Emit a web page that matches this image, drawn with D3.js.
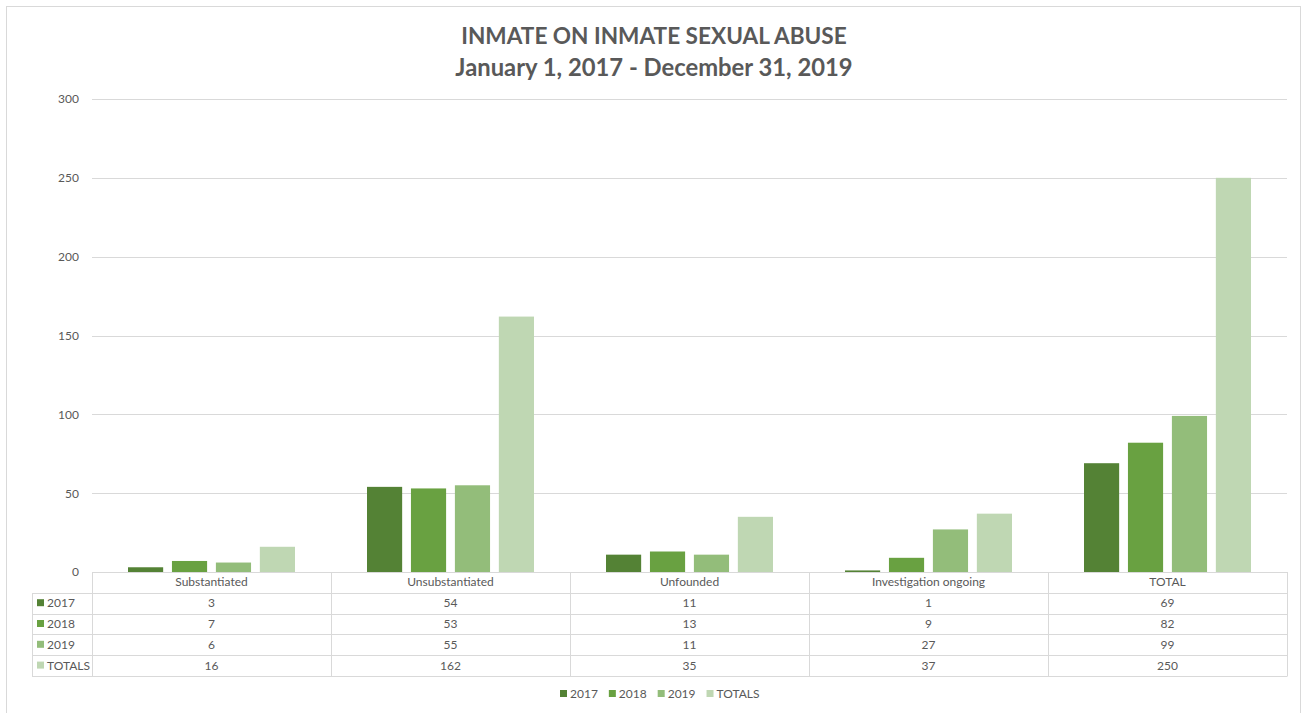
<!DOCTYPE html>
<html>
<head>
<meta charset="utf-8">
<script src="https://cdn.jsdelivr.net/npm/d3@7"></script>
<style>
  html, body { margin: 0; padding: 0; background: #fff; }
  svg { display: block; font-family: Lato, "Open Sans", sans-serif; }
</style>
</head>
<body>
<svg id="chart" width="1304" height="713"></svg>
<script>
// Outcome categories and yearly counts
const categories = ["Substantiated", "Unsubstantiated", "Unfounded", "Investigation ongoing", "TOTAL"];
const seriesNames = ["2017", "2018", "2019", "TOTALS"];
const values2017 = [3, 54, 11, 1, 69];
const values2018 = [7, 53, 13, 9, 82];
const values2019 = [6, 55, 11, 27, 99];
const valuesTotals = [16, 162, 35, 37, 250];
const yTicks = [0, 50, 100, 150, 200, 250, 300];
const colors = ["#548235", "#69a141", "#93bd7a", "#bfd7b3"];

const seriesValues = [values2017, values2018, values2019, valuesTotals];
const series = seriesNames.map((name, i) => ({ name, color: colors[i], values: seriesValues[i] }));

const svg = d3.select("#chart");
const W = 1304, H = 713;
const textColor = "#595959";
const lineColor = "#d9d9d9";

// chart frame
svg.append("rect")
  .attr("x", 6.5).attr("y", 6.5).attr("width", W - 10).attr("height", H - 5)
  .attr("fill", "#fff").attr("stroke", "#d9d9d9").attr("stroke-width", 1);

// title
const title = svg.append("text")
  .attr("text-anchor", "middle")
  .attr("fill", textColor)
  .attr("font-weight", "bold");
title.append("tspan").attr("x", 654).attr("y", 44).attr("font-size", 22.6).text("INMATE ON INMATE SEXUAL ABUSE");
title.append("tspan").attr("x", 654).attr("y", 76).attr("font-size", 23.8).text("January 1, 2017 - December 31, 2019");

const plot = { left: 92, right: 1287, top: 99, bottom: 572 };

const x0 = d3.scaleBand().domain(categories).range([plot.left, plot.right]).padding(0);
const groupPad = 36;
const x1 = d3.scaleBand().domain(seriesNames)
  .range([groupPad, x0.bandwidth() - groupPad])
  .paddingInner(0.2);
const y = d3.scaleLinear().domain([0, 300]).range([plot.bottom, plot.top]);

// gridlines
svg.append("g")
  .selectAll("line")
  .data(yTicks)
  .join("line")
  .attr("x1", plot.left).attr("x2", plot.right)
  .attr("y1", d => Math.round(y(d)) + 0.5).attr("y2", d => Math.round(y(d)) + 0.5)
  .attr("stroke", lineColor).attr("stroke-width", 1);

// y axis labels
const yAxis = d3.axisLeft(y).tickValues(yTicks).tickSize(0).tickPadding(13);
const yg = svg.append("g").attr("transform", `translate(${plot.left},0)`).call(yAxis);
yg.select(".domain").remove();
yg.selectAll("text").attr("fill", textColor).attr("font-size", 12)
  .attr("font-family", "Lato, 'Open Sans', sans-serif");

// bars
const groups = svg.append("g")
  .selectAll("g")
  .data(categories)
  .join("g")
  .attr("transform", d => `translate(${x0(d)},0)`);

groups.selectAll("rect")
  .data((c, ci) => series.map(s => ({ name: s.name, color: s.color, value: s.values[ci] })))
  .join("rect")
  .attr("x", d => x1(d.name))
  .attr("width", x1.bandwidth())
  .attr("y", d => y(d.value))
  .attr("height", d => y(0) - y(d.value))
  .attr("fill", d => d.color);

// data table below the axis
const rowH = 20.8;
const tableTop = plot.bottom;
const legendColX = 32;
const tableG = svg.append("g");

// header row
tableG.append("line")
  .attr("x1", plot.left).attr("x2", plot.right)
  .attr("y1", tableTop + 0.5).attr("y2", tableTop + 0.5)
  .attr("stroke", lineColor);
// horizontal row lines
for (let r = 1; r <= series.length + 1; r++) {
  const yy = Math.round(tableTop + r * rowH) + 0.5;
  tableG.append("line")
    .attr("x1", legendColX).attr("x2", plot.right)
    .attr("y1", yy).attr("y2", yy)
    .attr("stroke", lineColor);
}
// vertical lines
const tableBottom = Math.round(tableTop + (series.length + 1) * rowH) + 0.5;
const vxs = categories.map(c => x0(c)).concat([plot.right]);
vxs.forEach(vx => {
  tableG.append("line")
    .attr("x1", Math.round(vx) + 0.5).attr("x2", Math.round(vx) + 0.5)
    .attr("y1", tableTop).attr("y2", tableBottom)
    .attr("stroke", lineColor);
});
tableG.append("line")
  .attr("x1", legendColX + 0.5).attr("x2", legendColX + 0.5)
  .attr("y1", Math.round(tableTop + rowH)).attr("y2", tableBottom)
  .attr("stroke", lineColor);

// category headers
tableG.selectAll("text.cat")
  .data(categories)
  .join("text")
  .attr("class", "cat")
  .attr("x", d => x0(d) + x0.bandwidth() / 2)
  .attr("y", tableTop + rowH / 2 + 4)
  .attr("text-anchor", "middle")
  .attr("fill", textColor).attr("font-size", 12)
  .text(d => d);

// series rows
series.forEach((s, si) => {
  const rowY = tableTop + (si + 1) * rowH;
  tableG.append("rect")
    .attr("x", 37).attr("y", rowY + rowH / 2 - 4)
    .attr("width", 7).attr("height", 7)
    .attr("fill", s.color);
  tableG.append("text")
    .attr("x", 47).attr("y", rowY + rowH / 2 + 4)
    .attr("fill", textColor).attr("font-size", 12)
    .text(s.name);
  tableG.selectAll(null)
    .data(categories)
    .join("text")
    .attr("x", d => x0(d) + x0.bandwidth() / 2)
    .attr("y", rowY + rowH / 2 + 4)
    .attr("text-anchor", "middle")
    .attr("fill", textColor).attr("font-size", 12)
    .text((d, ci) => s.values[ci]);
});

// legend
const legend = svg.append("g");
let lx = 560;
series.forEach(s => {
  legend.append("rect").attr("x", lx).attr("y", 690).attr("width", 7).attr("height", 7).attr("fill", s.color);
  const t = legend.append("text").attr("x", lx + 10).attr("y", 698)
    .attr("fill", textColor).attr("font-size", 12).text(s.name);
  lx += 10 + t.node().getComputedTextLength() + 11;
});
</script>
</body>
</html>
